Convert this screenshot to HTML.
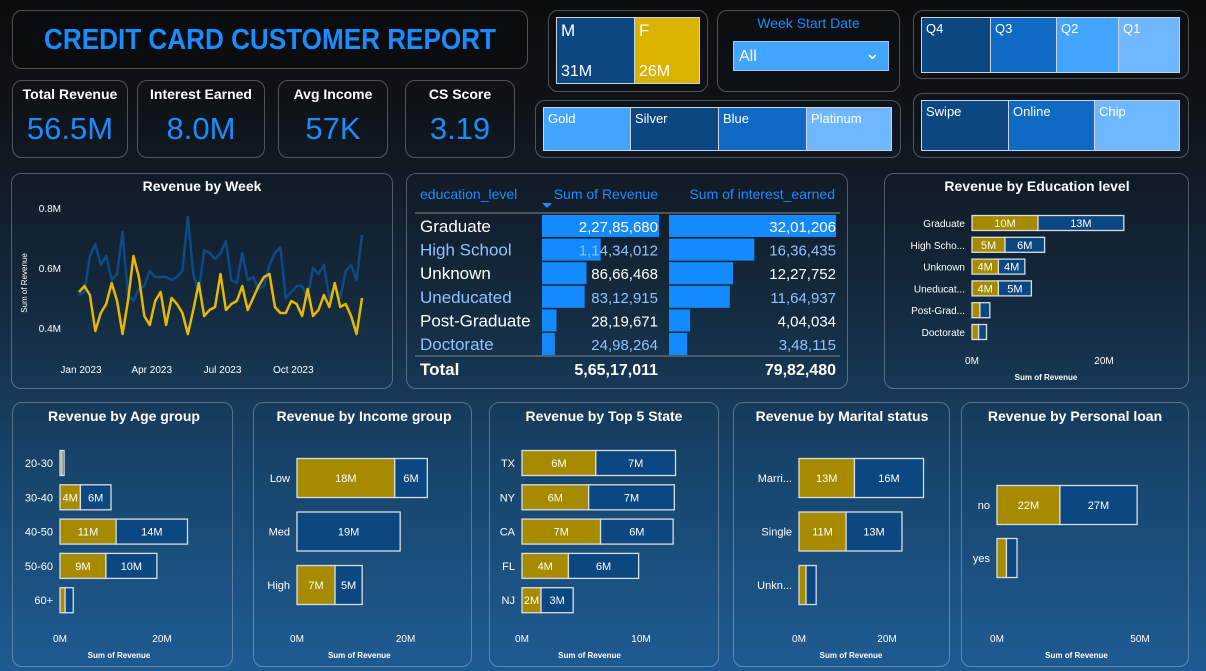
<!DOCTYPE html>
<html><head><meta charset="utf-8">
<style>
*{margin:0;padding:0;box-sizing:border-box}
body{width:1206px;height:671px;overflow:hidden;font-family:"Liberation Sans",sans-serif;color:#fff;
background:linear-gradient(180deg,#0b0c0e 0%,#0f141a 18%,#142a3e 45%,#17456b 70%,#1f5b93 100%);position:relative}
.p{position:absolute;border:1px solid rgba(255,255,255,0.28);border-radius:10px}
.abs{position:absolute}
.kt{position:absolute;left:0;right:0;top:5px;text-align:center;font-weight:bold;font-size:14px;white-space:nowrap}
.kv{position:absolute;left:0;right:0;top:30px;text-align:center;font-size:31px;color:#1a8cff}
.tile{position:absolute;border:1px solid #c9d3df;font-size:13px;padding:3px 4px;color:#fff}
svg text{font-family:"Liberation Sans",sans-serif}
</style></head><body>
<div class="p" style="left:12px;top:10px;width:516px;height:59px;background:#0b0c0e">
 <div class="abs" style="left:-20px;right:-20px;top:13px;text-align:center;font-weight:bold;font-size:29px;color:#1a8cff;white-space:nowrap;transform:scaleX(0.9)">CREDIT CARD CUSTOMER REPORT</div>
</div>
<div class="p" style="left:12px;top:80px;width:116px;height:78px"><div class="kt">Total Revenue</div><div class="kv">56.5M</div></div>
<div class="p" style="left:137px;top:80px;width:128px;height:78px"><div class="kt">Interest Earned</div><div class="kv">8.0M</div></div>
<div class="p" style="left:278px;top:80px;width:110px;height:78px"><div class="kt">Avg Income</div><div class="kv">57K</div></div>
<div class="p" style="left:405px;top:80px;width:110px;height:78px"><div class="kt">CS Score</div><div class="kv">3.19</div></div>

<div class="p" style="left:548px;top:10px;width:160px;height:82px"></div>
<div class="tile" style="left:556px;top:17px;width:79px;height:67px;background:#0b4780;font-size:17px">M<div class="abs" style="left:4px;bottom:2px;font-size:16px">31M</div></div>
<div class="tile" style="left:634px;top:17px;width:66px;height:67px;background:#d9b300;font-size:17px">F<div class="abs" style="left:4px;bottom:2px;font-size:16px">26M</div></div>

<div class="p" style="left:717px;top:10px;width:183px;height:82px">
 <div class="abs" style="left:0;right:0;top:4px;text-align:center;font-size:14px;color:#1a8cff">Week Start Date</div>
 <div class="abs" style="left:15px;top:30px;width:156px;height:30px;background:#42a5ff;border:1px solid #a9c8e8;font-size:16px;padding:6px 5px">All<span class="abs" style="right:8px;top:1px;font-size:18px">&#8964;</span></div>
</div>

<div class="p" style="left:913px;top:10px;width:276px;height:69px"></div>
<div class="tile" style="left:921px;top:17px;width:70px;height:56px;background:#0b4780">Q4</div>
<div class="tile" style="left:990px;top:17px;width:67px;height:56px;background:#0f6ac4">Q3</div>
<div class="tile" style="left:1056px;top:17px;width:63px;height:56px;background:#42a5ff">Q2</div>
<div class="tile" style="left:1118px;top:17px;width:62px;height:56px;background:#6fb8ff">Q1</div>

<div class="p" style="left:535px;top:100px;width:366px;height:58px"></div>
<div class="tile" style="left:543px;top:107px;width:88px;height:44px;background:#42a5ff">Gold</div>
<div class="tile" style="left:630px;top:107px;width:89px;height:44px;background:#0b4780">Silver</div>
<div class="tile" style="left:718px;top:107px;width:89px;height:44px;background:#0f6ac4">Blue</div>
<div class="tile" style="left:806px;top:107px;width:86px;height:44px;background:#6fb8ff">Platinum</div>

<div class="p" style="left:913px;top:93px;width:276px;height:65px"></div>
<div class="tile" style="left:921px;top:100px;width:88px;height:51px;background:#0b4780">Swipe</div>
<div class="tile" style="left:1008px;top:100px;width:87px;height:51px;background:#0f6ac4">Online</div>
<div class="tile" style="left:1094px;top:100px;width:86px;height:51px;background:#6fb8ff">Chip</div>

<div class="p" style="left:11px;top:173px;width:382px;height:216px"></div>
<div class="p" style="left:406px;top:173px;width:442px;height:216px"></div>
<div class="p" style="left:884px;top:173px;width:305px;height:216px"></div>
<div class="p" style="left:12px;top:402px;width:221px;height:265px"></div>
<div class="p" style="left:253px;top:402px;width:219px;height:265px"></div>
<div class="p" style="left:489px;top:402px;width:230px;height:265px"></div>
<div class="p" style="left:733px;top:402px;width:217px;height:265px"></div>
<div class="p" style="left:961px;top:402px;width:228px;height:265px"></div>

<svg id="s" class="abs" style="left:0;top:0" width="1206" height="671"></svg>

<script>
// ---- Revenue by week data ----
const weekLabels = ['Jan 2023','Apr 2023','Jul 2023','Oct 2023'];
const weekLabelIdx = [0,13,26,39];
const weekTicks = [0.4,0.6,0.8];
const weekTickLabels = ['0.4M','0.6M','0.8M'];
const maleWeekly = [0.51,0.52,0.64,0.68,0.61,0.64,0.56,0.58,0.72,0.51,0.49,0.53,0.54,0.59,0.57,0.57,0.57,0.56,0.57,0.59,0.77,0.58,0.52,0.66,0.65,0.63,0.65,0.69,0.56,0.55,0.65,0.56,0.57,0.53,0.54,0.61,0.65,0.67,0.50,0.52,0.54,0.54,0.50,0.60,0.58,0.61,0.50,0.54,0.50,0.59,0.61,0.56,0.71];
const femaleWeekly = [0.52,0.54,0.51,0.39,0.45,0.48,0.55,0.49,0.38,0.49,0.64,0.57,0.44,0.41,0.49,0.52,0.41,0.50,0.48,0.45,0.38,0.46,0.55,0.44,0.46,0.47,0.58,0.46,0.48,0.49,0.54,0.46,0.50,0.54,0.57,0.58,0.47,0.45,0.45,0.49,0.48,0.44,0.53,0.44,0.46,0.51,0.47,0.55,0.47,0.48,0.44,0.38,0.50];

// ---- Education table ----
const eduCats = ['Graduate','High School','Unknown','Uneducated','Post-Graduate','Doctorate'];
const eduRevenue = [22785680,11434012,8666468,8312915,2819671,2498264];
const eduInterest = [3201206,1636435,1227752,1164937,404034,348115];
const eduRevenueText = ['2,27,85,680','1,14,34,012','86,66,468','83,12,915','28,19,671','24,98,264'];
const eduInterestText = ['32,01,206','16,36,435','12,27,752','11,64,937','4,04,034','3,48,115'];
const totalRevenueText = '5,65,17,011';
const totalInterestText = '79,82,480';

// ---- Bar charts (F = gold, M = blue), values in millions ----
const eduBarCats = ['Graduate','High Scho...','Unknown','Uneducat...','Post-Grad...','Doctorate'];
const eduF = [10,5,4,4,1.2,1.0];
const eduM = [13,6,4,5,1.5,1.2];
const ageCats = ['20-30','30-40','40-50','50-60','60+'];
const ageF = [0.4,4,11,9,1.0];
const ageM = [0.4,6,14,10,1.6];
const incomeCats = ['Low','Med','High'];
const incomeF = [18,0,7];
const incomeM = [6,19,5];
const stateCats = ['TX','NY','CA','FL','NJ'];
const stateF = [6.2,5.6,6.6,3.9,1.6];
const stateM = [6.7,7.2,6.1,5.9,2.7];
const maritalCats = ['Marri...','Single','Unkn...'];
const maritalF = [12.6,10.7,1.6];
const maritalM = [15.7,12.7,2.3];
const loanCats = ['no','yes'];
const loanF = [22,3.3];
const loanM = [27,3.7];

const S = document.getElementById('s');
const NS = 'http://www.w3.org/2000/svg';
function mk(tag, attrs, parent){const e=document.createElementNS(NS,tag);for(const k in attrs)e.setAttribute(k,attrs[k]);(parent||S).appendChild(e);return e;}
function txt(x,y,t,size,anchor,fill,weight,parent){const e=mk('text',{x:x,y:y,'font-size':size,'text-anchor':anchor||'start',fill:fill||'#fff','font-weight':weight||'normal'},parent);e.textContent=t;return e;}

// ---- line chart ----
(function(){
 const g=mk('g',{});
 
 
 const t=txt(202,191,'Revenue by Week',14,'middle','#fff','bold',g);
 
 
 const x0=79,x1=362,n=maleWeekly.length;
 const xs=i=>x0+i*(x1-x0)/(n-1);
 const ys=v=>328-(v-0.4)*300;
 weekTicks.forEach((v,i)=>{const l=txt(61,ys(v)+4,weekTickLabels[i],10,'end','#fff','normal',g);
  
  });
 weekLabels.forEach((s,i)=>{const l=txt(xs(weekLabelIdx[i])+2,373,s,10,'middle','#fff','normal',g);
  
  });
 const yt=txt(0,0,'Sum of Revenue',8,'middle','#fff','normal',g);
 yt.setAttribute('transform','translate(27,283) rotate(-90)');
 
 
 const pm=mk('polyline',{points:maleWeekly.map((v,i)=>xs(i)+','+ys(v)).join(' '),fill:'none',stroke:'#0d4a88','stroke-width':2.5,'stroke-linejoin':'round'},g);
 
 
 const pf=mk('polyline',{points:femaleWeekly.map((v,i)=>xs(i)+','+ys(v)).join(' '),fill:'none',stroke:'#e6b800','stroke-width':2.5,'stroke-linejoin':'round'},g);
 
 
})();

// ---- table ----
(function(){
 const g=mk('g',{});
 
 
 const hc='#1a8cff';
 [['education_level',420,'start'],['Sum of Revenue',658,'end'],['Sum of interest_earned',835,'end']].forEach(h=>{
  const e=txt(h[1],199,h[0],14,h[2],hc,'normal',g);
  
  });
 mk('polygon',{points:'542,203 552,203 547,208',fill:hc},g);
 mk('line',{x1:415,y1:213,x2:840,y2:213,stroke:'#888','stroke-width':1},g);
 mk('line',{x1:415,y1:356,x2:840,y2:356,stroke:'#888','stroke-width':1},g);
 const maxR=Math.max(...eduRevenue),maxI=Math.max(...eduInterest);
 eduCats.forEach((c,i)=>{
  const top=215+i*23.6, cy=top+17;
  const col=i%2? '#8fc3ff':'#fff';
  const b1=mk('rect',{x:542,y:top,width:117*eduRevenue[i]/maxR,height:22,fill:'#148aff'},g);
  
  
  const b2=mk('rect',{x:669,y:top,width:167*eduInterest[i]/maxI,height:22,fill:'#148aff'},g);
  
  
  txt(420,cy,c,17,'start',col,'normal',g);
  txt(658,cy,eduRevenueText[i],15,'end',col,'normal',g);
  txt(836,cy,eduInterestText[i],15,'end',col,'normal',g);
 });
 txt(420,375,'Total',17,'start','#fff','bold',g);
 txt(658,375,totalRevenueText,16,'end','#fff','bold',g);
 txt(836,375,totalInterestText,16,'end','#fff','bold',g);
})();

// ---- stacked bar charts ----
function barChart(name,title,titleX,titleY,cats,fv,mv,zeroX,pxPerM,rowY0,rowStep,barH,ticks,tickLbls,axisY,labelSize){
 const g=mk('g',{});
 
 
 const t=txt(titleX,titleY,title,14,'middle','#fff','bold',g);
 
 
 const xs=v=>zeroX+v*pxPerM;
 cats.forEach((c,i)=>{
  const cy=rowY0+i*rowStep, y=cy-barH/2;
  const cl=txt(zeroX-7,cy+4,c,labelSize,'end','#fff','normal',g);
  
  
  const wf=fv[i]*pxPerM, wm=mv[i]*pxPerM;
  if(wf>0){const r=mk('rect',{x:xs(0),y:y,width:wf,height:barH,fill:'#a68a00',stroke:'#d8dde4','stroke-width':1.3},g);
   
   
   if(wf>17) txt(xs(0)+wf/2,cy+4,Math.round(fv[i])+'M',11,'middle','#fff','normal',g);}
  const r2=mk('rect',{x:xs(fv[i]),y:y,width:wm,height:barH,fill:'#0b4780',stroke:'#d8dde4','stroke-width':1.3},g);
  
  
  if(wm>17) txt(xs(fv[i])+wm/2,cy+4,Math.round(mv[i])+'M',11,'middle','#fff','normal',g);
 });
 ticks.forEach((v,i)=>{const l=txt(xs(v),axisY,tickLbls[i],10,'middle','#fff','normal',g);
  
  });
 const at=txt((xs(ticks[0])+xs(ticks[ticks.length-1]))/2+8,axisY+16,'Sum of Revenue',8,'middle','#fff','bold',g);
 
 
}
barChart('education-bar-chart','Revenue by Education level',1037,191,eduBarCats,eduF,eduM,972,6.6,223,21.8,15,[0,20],['0M','20M'],364,10);
barChart('age-bar-chart','Revenue by Age group',124,421,ageCats,ageF,ageM,60,5.1,463,34.3,25,[0,20],['0M','20M'],642,11);
barChart('income-bar-chart','Revenue by Income group',364,421,incomeCats,incomeF,incomeM,297,5.43,478,53.5,39,[0,20],['0M','20M'],642,11);
barChart('state-bar-chart','Revenue by Top 5 State',604,421,stateCats,stateF,stateM,522,11.9,463,34.3,25,[0,10],['0M','10M'],642,11);
barChart('marital-bar-chart','Revenue by Marital status',842,421,maritalCats,maritalF,maritalM,799,4.4,478,53.5,39,[0,20],['0M','20M'],642,11);
barChart('loan-bar-chart','Revenue by Personal loan',1075,421,loanCats,loanF,loanM,997,2.86,505,53,39,[0,50],['0M','50M'],642,11);
</script>
</body></html>
